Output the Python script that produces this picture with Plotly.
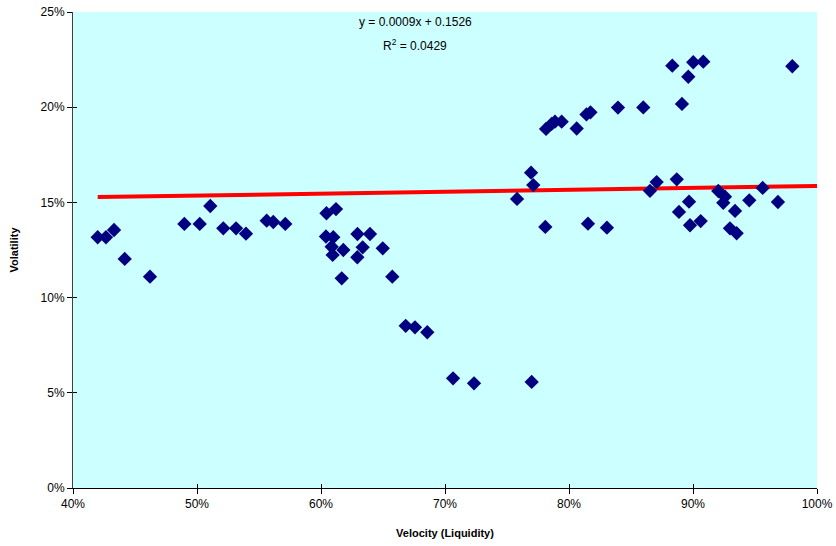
import plotly.graph_objects as go
import numpy as np

# Velocity (Liquidity), percent
velocity = [41.99, 42.66, 43.31, 44.17, 46.21, 48.98, 50.22, 51.07, 52.12, 53.15,
            53.95, 55.62, 56.15, 57.12, 60.44, 61.21, 60.40, 60.99, 60.86, 61.80,
            60.94, 62.94, 63.95, 63.36, 62.93, 64.98, 61.67, 65.75, 66.83, 67.58,
            68.57, 70.65, 72.34, 76.99, 76.94, 77.12, 75.81, 78.09, 81.53, 83.06,
            78.15, 78.60, 78.87, 79.41, 80.62, 81.41, 81.73, 83.95, 85.99, 88.33,
            89.11, 89.62, 90.02, 90.83, 98.01,
            86.53, 87.07, 88.69, 88.87, 89.68, 89.76, 90.62, 92.04, 92.58, 92.44,
            93.39, 92.98, 93.52, 94.54, 95.62, 96.85]
# Volatility, percent
volatility = [13.17, 13.17, 13.55, 12.03, 11.10, 13.87, 13.87, 14.81, 13.64, 13.64,
              13.36, 14.04, 13.97, 13.87, 14.43, 14.65, 13.21, 13.17, 12.67, 12.50,
              12.24, 13.34, 13.34, 12.64, 12.12, 12.59, 11.01, 11.10, 8.52, 8.44,
              8.18, 5.76, 5.50, 5.57, 16.56, 15.91, 15.18, 13.71, 13.88, 13.67,
              18.86, 19.12, 19.24, 19.24, 18.88, 19.62, 19.73, 19.98, 19.99, 22.18,
              20.17, 21.60, 22.36, 22.39, 22.15,
              15.61, 16.07, 16.21, 14.50, 15.04, 13.80, 14.02, 15.60, 15.30, 14.98,
              14.55, 13.64, 13.38, 15.11, 15.76, 15.02]

# Trendline as drawn (percent units), from min x to axis end
trend_slope = 0.01
trend_intercept = 14.86
trend_x_end = 100.0

equation_text = "y = 0.0009x + 0.1526"
r2_text = "R<sup>2</sup> = 0.0429"

x_ticks = [0.4, 0.5, 0.6, 0.7, 0.8, 0.9, 1.0]
y_ticks = [0, 0.05, 0.10, 0.15, 0.20, 0.25]

vx = np.array(velocity) / 100
vy = np.array(volatility) / 100
tx = np.array([min(velocity), trend_x_end])
ty = (trend_intercept + trend_slope * tx) / 100
tx = tx / 100

FONT = "Liberation Sans, Arial, sans-serif"

fig = go.Figure()
fig.add_trace(go.Scatter(x=tx, y=ty, mode="lines",
                         line=dict(color="#FF0000", width=4),
                         showlegend=False, hoverinfo="skip"))
fig.add_trace(go.Scatter(x=vx, y=vy, mode="markers",
                         marker=dict(symbol="diamond", size=11, color="#000080",
                                     line=dict(width=0)),
                         showlegend=False))
# invisible trace for overlay axes (inside tick marks -> cross ticks)
fig.add_trace(go.Scatter(x=[0.4], y=[0], xaxis="x2", yaxis="y2", mode="markers",
                         marker=dict(opacity=0), showlegend=False, hoverinfo="skip"))

fig.update_layout(
    width=836, height=546,
    margin=dict(l=73, r=19, t=12, b=58),
    paper_bgcolor="white",
    plot_bgcolor="#CCFFFF",
    font=dict(family=FONT, size=11, color="black"),
    xaxis=dict(range=[0.4, 1.0], tickvals=x_ticks, tickformat=".0%", automargin=False,
               ticklabeloverflow="allow",
               showgrid=False, zeroline=False, showline=True, linecolor="black",
               linewidth=1, ticks="outside", ticklen=5, tickcolor="black",
               tickfont=dict(size=12, family=FONT),
               title=dict(text="<b>Velocity (Liquidity)</b>", font=dict(size=11, family=FONT),
                          standoff=18)),
    yaxis=dict(range=[0, 0.25], tickvals=y_ticks, tickformat=".0%", automargin=False,
               ticklabeloverflow="allow",
               showgrid=False, zeroline=False, showline=True, linecolor="#404040",
               linewidth=1, ticks="outside", ticklen=5, tickcolor="black",
               tickfont=dict(size=12, family=FONT),
               title=dict(text="<b>Volatility</b>", font=dict(size=11, family=FONT),
                          standoff=19)),
    xaxis2=dict(overlaying="x", matches="x", range=[0.4, 1.0], tickvals=x_ticks,
                ticks="inside", ticklen=4, tickcolor="black", showticklabels=False,
                automargin=False,
                showgrid=False, zeroline=False, showline=False, anchor="y2", side="bottom"),
    yaxis2=dict(overlaying="y", matches="y", range=[0, 0.25], tickvals=y_ticks,
                ticks="inside", ticklen=4, tickcolor="black", showticklabels=False,
                automargin=False,
                showgrid=False, zeroline=False, showline=False, anchor="x2", side="left"),
)

fig.add_annotation(x=0.676, y=0.2445, xref="x", yref="y", text=equation_text,
                   showarrow=False, font=dict(size=12, family=FONT), yanchor="middle")
fig.add_annotation(x=0.676, y=0.2325, xref="x", yref="y", text=r2_text,
                   showarrow=False, font=dict(size=12, family=FONT), yanchor="middle")

fig.write_html("out.html", config={"displayModeBar": False},
               post_script="document.body.style.margin='0';document.body.style.overflow='hidden';")
